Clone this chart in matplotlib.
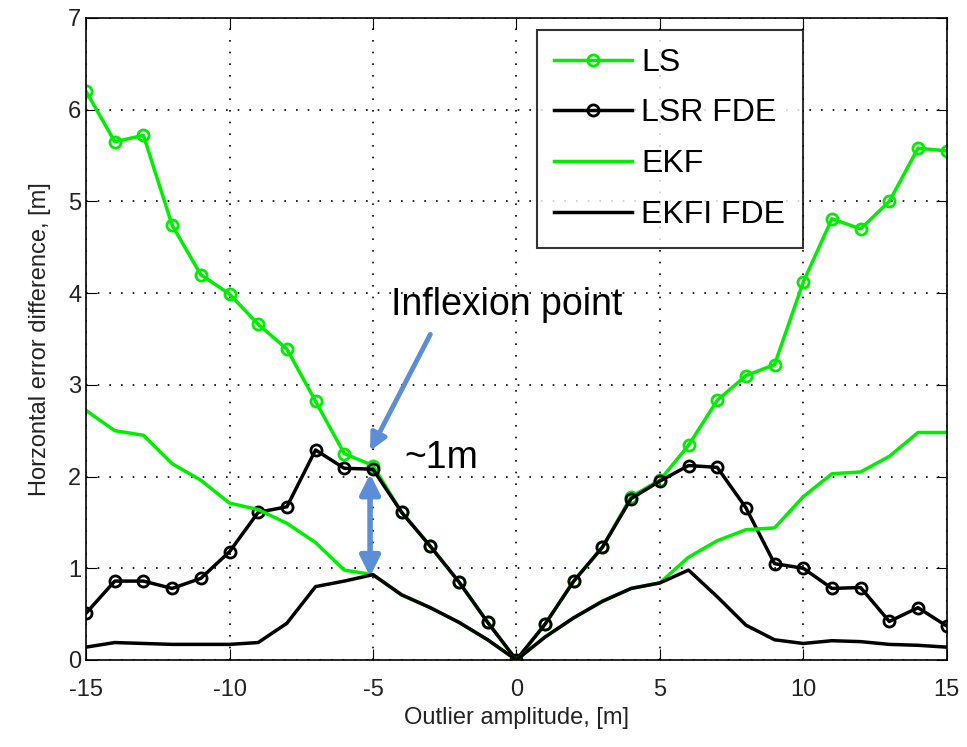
import numpy as np
import matplotlib.pyplot as plt

plt.rcParams['font.family'] = ['Liberation Sans', 'DejaVu Sans']
plt.rcParams['axes.unicode_minus'] = False

# Outlier amplitude, one value per metre
amplitude = list(range(-15, 16))

ls = [6.20, 5.65, 5.72, 4.74, 4.20, 3.99, 3.66, 3.39, 2.82, 2.25, 2.12,
      1.61, 1.24, 0.85, 0.41, 0.00, 0.39, 0.86, 1.23, 1.78, 1.96,
      2.34, 2.83, 3.10, 3.22, 4.12, 4.81, 4.70, 5.00, 5.58, 5.55]
lsr_fde = [0.51, 0.86, 0.86, 0.78, 0.89, 1.18, 1.61, 1.67, 2.29, 2.09, 2.08,
           1.61, 1.24, 0.85, 0.41, 0.00, 0.39, 0.86, 1.23, 1.76, 1.95,
           2.12, 2.10, 1.66, 1.05, 1.00, 0.78, 0.79, 0.42, 0.57, 0.37]
ekf = [2.72, 2.50, 2.45, 2.14, 1.96, 1.71, 1.64, 1.49, 1.28, 0.98, 0.93,
       0.71, 0.57, 0.41, 0.22, 0.00, 0.25, 0.46, 0.64, 0.78, 0.84,
       1.12, 1.30, 1.42, 1.44, 1.78, 2.03, 2.05, 2.22, 2.48, 2.48]
ekfi_fde = [0.14, 0.19, 0.18, 0.17, 0.17, 0.17, 0.19, 0.40, 0.80, 0.86, 0.93,
            0.71, 0.57, 0.41, 0.22, 0.00, 0.25, 0.46, 0.64, 0.78, 0.84,
            0.98, 0.69, 0.38, 0.22, 0.18, 0.21, 0.20, 0.17, 0.16, 0.14]

green = '#00ee00'
blue = '#5b8ed6'

fig = plt.figure(figsize=(9.67, 7.47), dpi=100)
ax = fig.add_axes([0.089, 0.1165, 0.890, 0.8595])

ax.plot(amplitude, ls, '-o', color=green, lw=2.5, ms=8, mfc='none', mew=2, label='LS')
ax.plot(amplitude, lsr_fde, '-o', color='black', lw=2.5, ms=8, mfc='none', mew=2, label='LSR FDE')
ax.plot(amplitude, ekf, '-', color=green, lw=2.5, label='EKF')
ax.plot(amplitude, ekfi_fde, '-', color='black', lw=2.5, label='EKFI FDE')

ax.set_xlim(-15, 15)
ax.set_ylim(0, 7)
ax.set_xticks(range(-15, 16, 5))
ax.set_yticks(range(0, 8))
ax.grid(True, color='black', linestyle=(0, (1, 6)), linewidth=1.2)
ax.tick_params(direction='in', top=True, right=True, length=8, labelsize=17,
               colors='black', labelcolor='#222222')
ax.tick_params(axis='x', pad=14)
for sp in ax.spines.values():
    sp.set_linewidth(1.2)

ax.set_xlabel('Outlier amplitude, [m]', fontsize=17, color='#222222', labelpad=4)
ax.set_ylabel('Horzontal error difference, [m]', fontsize=17, color='#222222', labelpad=12)

leg = ax.legend(loc='upper left', bbox_to_anchor=(0.5235, 0.981), fontsize=23,
                frameon=True, fancybox=False, edgecolor='black', handlelength=2.45,
                borderpad=0.55, labelspacing=0.65, handletextpad=0.28, borderaxespad=0)
leg.get_frame().set_linewidth(1.5)

# annotations
ax.annotate('', xy=(-5.1, 2.28), xytext=(-3.0, 3.55),
            arrowprops=dict(arrowstyle='-|>,head_length=1.0,head_width=0.5', color=blue, lw=3.5,
                            shrinkA=0, shrinkB=0))
ax.text(-0.35, 3.87, 'Inflexion point', fontsize=27, ha='center', va='center', color='black')
ax.annotate('', xy=(-5.1, 0.91), xytext=(-5.1, 2.03),
            arrowprops=dict(arrowstyle='<|-|>,head_length=1.2,head_width=0.6', color=blue, lw=4,
                            shrinkA=0, shrinkB=0))
ax.text(-3.9, 2.2, '~1m', fontsize=27, ha='left', va='center', color='black')

fig.savefig('out.png', dpi=100)
